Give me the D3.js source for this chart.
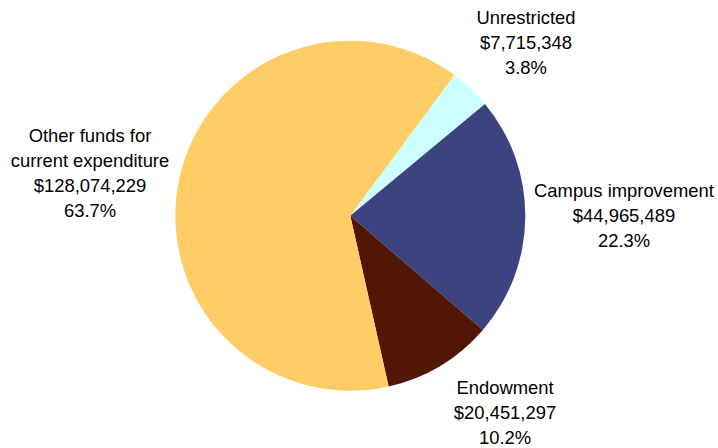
<!DOCTYPE html>
<html>
<head>
<meta charset="utf-8">
<script src="https://cdn.jsdelivr.net/npm/d3@7"></script>
<style>
html,body{margin:0;padding:0;background:#fff;}
svg{display:block;}
text{font-family:"Liberation Sans",Arial,sans-serif;font-size:18.4px;fill:#000;}
</style>
</head>
<body>
<svg id="chart" width="718" height="448"></svg>
<script>
const categories = ["Unrestricted", "Campus improvement", "Endowment", "Other funds for current expenditure"];
const values = [7715348, 44965489, 20451297, 128074229];
const colors = ["#CCFFFF", "#3C4480", "#521704", "#FFCC66"];
const labelLines = [
  ["Unrestricted"],
  ["Campus improvement"],
  ["Endowment"],
  ["Other funds for", "current expenditure"]
];
const labelPos = [[526, 24], [624, 197], [505, 394], [90, 142]];

const svg = d3.select("#chart");
const cx = 350.3, cy = 215.7, r = 175;
const total = d3.sum(values);
const data = categories.map((c, i) => ({name: c, value: values[i], color: colors[i], lines: labelLines[i], pos: labelPos[i]}));

const start = 36.5 * Math.PI / 180;
const pie = d3.pie().value(d => d.value).sort(null).startAngle(start).endAngle(start + 2 * Math.PI);
const arc = d3.arc().innerRadius(0).outerRadius(r);

const g = svg.append("g").attr("transform", `translate(${cx},${cy})`);
g.selectAll("path").data(pie(data)).enter().append("path")
  .attr("d", arc).attr("fill", d => d.data.color);

const fmt = d3.format("$,");
const pct = d3.format(".1%");
const lh = 25;
data.forEach(d => {
  const lines = d.lines.concat([fmt(d.value), pct(d.value / total)]);
  const t = svg.append("text").attr("text-anchor", "middle");
  lines.forEach((l, i) => {
    t.append("tspan").attr("x", d.pos[0]).attr("y", d.pos[1] + i * lh).text(l);
  });
});
</script>
</body>
</html>
